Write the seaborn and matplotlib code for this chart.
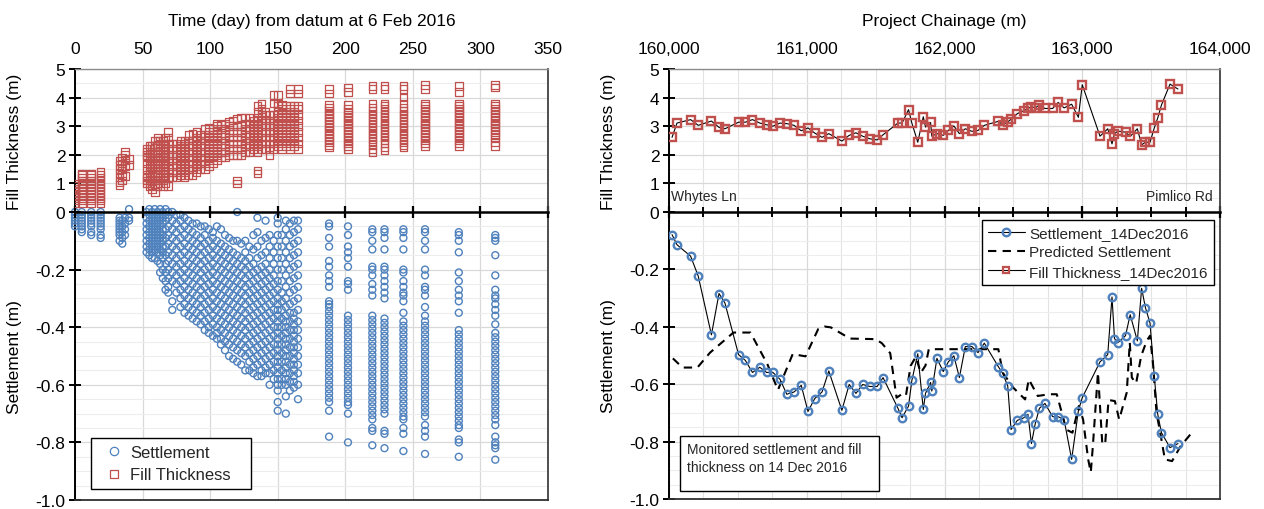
import numpy as np
import pandas as pd
import matplotlib
matplotlib.use("Agg")
import matplotlib.pyplot as plt
import seaborn as sns
from matplotlib.lines import Line2D
from matplotlib.patches import Rectangle
from matplotlib.ticker import MultipleLocator, FixedLocator, FuncFormatter

# ---------------- data: left panel (time history) ----------------
survey_days = [0, 5, 12, 19, 33, 35, 37, 40, 53, 55, 57, 59, 61, 63, 65, 67, 69, 72, 75, 78,
               81, 84, 87, 90, 93, 96, 99, 102, 105, 108, 111, 114, 117, 120, 123, 126, 129,
               132, 135, 138, 141, 144, 147, 150, 153, 156, 159, 162, 165,
               188, 202, 220, 229, 243, 259, 284, 311]

fill_by_day = [
    [0.3, 0.4, 0.5, 0.55, 0.6, 0.65, 0.7, 0.75, 0.8, 0.9, 1.0],
    [0.3, 0.4, 0.5, 0.6, 0.7, 0.8, 0.9, 1.0, 1.1, 1.2, 1.3, 1.35],
    [0.3, 0.4, 0.5, 0.6, 0.7, 0.8, 0.9, 1.0, 1.1, 1.2, 1.3, 1.35],
    [0.3, 0.4, 0.5, 0.6, 0.7, 0.8, 0.9, 1.0, 1.1, 1.2, 1.3, 1.4],
    [0.95, 1.05, 1.2, 1.35, 1.5, 1.65, 1.8],
    [1.1, 1.3, 1.5, 1.7, 1.9],
    [1.25, 1.6, 1.8, 2.0, 2.1],
    [1.65, 1.85],
    [1.0, 1.1, 1.2, 1.3, 1.5, 1.7, 1.9, 2.0, 2.1, 2.2],
    [0.9, 1.0, 1.1, 1.2, 1.4, 1.6, 1.8, 2.0, 2.2, 2.3],
    [0.8, 0.95, 1.1, 1.25, 1.4, 1.6, 1.8, 2.0, 2.1, 2.3],
    [0.7, 0.9, 1.1, 1.3, 1.5, 1.7, 1.9, 2.1, 2.3, 2.5],
    [0.9, 1.1, 1.3, 1.5, 1.7, 1.9, 2.1, 2.3, 2.5, 2.6],
    [1.0, 1.2, 1.4, 1.6, 1.8, 2.0, 2.2, 2.4, 2.5],
    [0.9, 1.1, 1.3, 1.5, 1.7, 1.9, 2.1, 2.3, 2.5],
    [1.0, 1.2, 1.4, 1.6, 1.8, 2.0, 2.2, 2.4, 2.6],
    [0.9, 1.2, 1.5, 1.8, 2.0, 2.2, 2.4, 2.6, 2.8],
    [1.2, 1.4, 1.6, 1.8, 2.0, 2.2, 2.4],
    [1.2, 1.4, 1.6, 1.8, 2.0, 2.2, 2.4],
    [1.3, 1.5, 1.7, 1.9, 2.1, 2.3, 2.5],
    [1.2, 1.4, 1.6, 1.8, 2.0, 2.2, 2.4, 2.5],
    [1.3, 1.5, 1.7, 1.9, 2.1, 2.3, 2.5, 2.7],
    [1.3, 1.5, 1.7, 1.9, 2.1, 2.3, 2.5, 2.75],
    [1.4, 1.6, 1.8, 2.0, 2.2, 2.4, 2.6, 2.8],
    [1.5, 1.7, 1.9, 2.1, 2.3, 2.5, 2.7],
    [1.5, 1.7, 1.9, 2.1, 2.3, 2.5, 2.7, 2.9],
    [1.6, 1.8, 2.0, 2.2, 2.4, 2.6, 2.8, 2.95],
    [1.7, 1.9, 2.1, 2.3, 2.5, 2.7, 2.9],
    [1.8, 2.0, 2.2, 2.4, 2.6, 2.8, 3.0, 3.1],
    [1.9, 2.1, 2.3, 2.5, 2.7, 2.9, 3.05],
    [1.9, 2.1, 2.3, 2.5, 2.7, 2.9, 3.1],
    [2.0, 2.2, 2.4, 2.6, 2.8, 3.0, 3.15],
    [2.0, 2.2, 2.4, 2.6, 2.8, 3.0, 3.2],
    [1.0, 1.1, 2.0, 2.2, 2.4, 2.6, 2.8, 3.0, 3.25],
    [2.0, 2.2, 2.4, 2.6, 2.8, 3.0, 3.3],
    [2.1, 2.3, 2.5, 2.7, 2.9, 3.1, 3.3],
    [2.1, 2.3, 2.5, 2.7, 2.9, 3.1, 3.3],
    [2.2, 2.4, 2.6, 2.8, 3.0, 3.2],
    [1.35, 1.45, 2.1, 2.3, 2.5, 2.7, 2.9, 3.1, 3.3, 3.5, 3.7],
    [2.2, 2.4, 2.6, 2.8, 3.0, 3.2, 3.4, 3.6, 3.8],
    [2.2, 2.4, 2.6, 2.8, 3.0, 3.2, 3.4, 3.5],
    [2.0, 2.2, 2.4, 2.6, 2.8, 3.0, 3.2, 3.4],
    [2.2, 2.4, 2.6, 2.8, 3.0, 3.2, 3.4, 3.8, 4.1],
    [2.3, 2.5, 2.7, 2.9, 3.1, 3.3, 3.5, 3.7, 3.8, 4.1],
    [2.2, 2.4, 2.6, 2.8, 3.0, 3.2, 3.4, 3.6, 3.75],
    [2.3, 2.5, 2.7, 2.9, 3.1, 3.3, 3.5, 3.7],
    [2.2, 2.4, 2.6, 2.8, 3.0, 3.2, 3.4, 3.6, 3.7, 4.15, 4.3],
    [2.3, 2.5, 2.7, 2.9, 3.1, 3.3, 3.5, 3.7],
    [2.2, 2.4, 2.6, 2.8, 3.0, 3.2, 3.4, 3.6, 3.7, 4.15, 4.3],
    [2.25, 2.35, 2.45, 2.55, 2.65, 2.75, 2.85, 2.95, 3.05, 3.15, 3.25, 3.35, 3.45, 3.55, 3.65, 3.75, 4.15, 4.3],
    [2.2, 2.3, 2.4, 2.5, 2.6, 2.7, 2.8, 2.9, 3.0, 3.1, 3.2, 3.3, 3.4, 3.5, 3.6, 3.75, 4.2, 4.35],
    [2.1, 2.2, 2.35, 2.45, 2.55, 2.65, 2.75, 2.85, 2.95, 3.05, 3.15, 3.25, 3.35, 3.45, 3.55, 3.65, 3.8, 4.3, 4.4],
    [2.15, 2.25, 2.4, 2.5, 2.6, 2.7, 2.8, 2.9, 3.0, 3.1, 3.2, 3.3, 3.4, 3.5, 3.6, 3.7, 3.8, 4.3, 4.4],
    [2.25, 2.35, 2.45, 2.55, 2.65, 2.75, 2.85, 2.95, 3.05, 3.15, 3.25, 3.35, 3.45, 3.55, 3.65, 3.8, 4.0, 4.3, 4.4],
    [2.3, 2.4, 2.5, 2.6, 2.7, 2.8, 2.9, 3.0, 3.1, 3.2, 3.3, 3.4, 3.5, 3.6, 3.7, 3.8, 4.3, 4.45],
    [2.3, 2.4, 2.5, 2.6, 2.7, 2.8, 2.9, 3.0, 3.1, 3.2, 3.3, 3.4, 3.5, 3.6, 3.7, 3.8, 4.2, 4.4],
    [2.3, 2.45, 2.6, 2.7, 2.8, 2.9, 3.0, 3.1, 3.2, 3.3, 3.4, 3.5, 3.6, 3.7, 3.8, 4.35, 4.45],
]

settle_by_day = [
    [0.0, -0.01, -0.02, -0.03, -0.04, -0.05],
    [0.0, -0.01, -0.02, -0.03, -0.04, -0.05, -0.06, -0.07],
    [0.0, -0.01, -0.02, -0.03, -0.04, -0.05, -0.07, -0.08],
    [0.0, -0.01, -0.02, -0.03, -0.04, -0.05, -0.06, -0.08, -0.09],
    [-0.02, -0.03, -0.04, -0.05, -0.06, -0.07, -0.08, -0.1],
    [-0.03, -0.05, -0.07, -0.09, -0.11],
    [-0.02, -0.04, -0.06, -0.08],
    [0.01, -0.02, -0.03],
    [0.0, -0.02, -0.04, -0.06, -0.08, -0.1, -0.12, -0.14],
    [0.01, -0.01, -0.03, -0.05, -0.07, -0.09, -0.11, -0.13, -0.15],
    [0.0, -0.02, -0.04, -0.06, -0.08, -0.1, -0.12, -0.14, -0.16],
    [0.01, -0.01, -0.03, -0.05, -0.07, -0.09, -0.11, -0.13, -0.16],
    [0.0, -0.02, -0.04, -0.06, -0.08, -0.1, -0.12, -0.14, -0.17],
    [0.01, -0.01, -0.03, -0.05, -0.07, -0.09, -0.11, -0.13, -0.15, -0.18, -0.21],
    [0.0, -0.02, -0.04, -0.06, -0.08, -0.1, -0.12, -0.14, -0.16, -0.2, -0.23],
    [0.01, -0.01, -0.03, -0.06, -0.09, -0.12, -0.15, -0.18, -0.21, -0.24, -0.27],
    [0.0, -0.02, -0.05, -0.08, -0.11, -0.14, -0.17, -0.2, -0.23, -0.26, -0.28],
    [0.0, -0.03, -0.06, -0.09, -0.12, -0.15, -0.18, -0.21, -0.24, -0.31, -0.34],
    [-0.01, -0.04, -0.07, -0.1, -0.13, -0.16, -0.19, -0.22, -0.25, -0.28],
    [-0.01, -0.03, -0.06, -0.09, -0.12, -0.15, -0.18, -0.21, -0.24, -0.27, -0.3, -0.33],
    [-0.02, -0.05, -0.08, -0.11, -0.14, -0.17, -0.2, -0.23, -0.26, -0.29, -0.32, -0.35],
    [-0.03, -0.06, -0.09, -0.12, -0.15, -0.18, -0.21, -0.24, -0.27, -0.3, -0.33, -0.36],
    [-0.04, -0.07, -0.1, -0.13, -0.16, -0.19, -0.22, -0.25, -0.28, -0.31, -0.34, -0.37],
    [-0.04, -0.08, -0.11, -0.14, -0.17, -0.2, -0.23, -0.26, -0.29, -0.32, -0.35, -0.38],
    [-0.05, -0.09, -0.12, -0.15, -0.18, -0.21, -0.24, -0.27, -0.3, -0.33, -0.36, -0.39],
    [-0.05, -0.08, -0.11, -0.14, -0.17, -0.2, -0.23, -0.26, -0.29, -0.32, -0.35, -0.38, -0.41],
    [-0.06, -0.1, -0.13, -0.16, -0.19, -0.22, -0.25, -0.28, -0.31, -0.34, -0.37, -0.4, -0.42],
    [-0.07, -0.09, -0.12, -0.15, -0.18, -0.21, -0.24, -0.27, -0.3, -0.33, -0.36, -0.39, -0.43],
    [-0.05, -0.1, -0.13, -0.16, -0.19, -0.22, -0.25, -0.28, -0.31, -0.34, -0.37, -0.4, -0.42, -0.44],
    [-0.06, -0.11, -0.14, -0.17, -0.2, -0.23, -0.26, -0.29, -0.32, -0.35, -0.38, -0.41, -0.44, -0.46],
    [-0.08, -0.12, -0.15, -0.18, -0.21, -0.24, -0.27, -0.3, -0.33, -0.36, -0.39, -0.42, -0.45, -0.48],
    [-0.09, -0.13, -0.16, -0.19, -0.22, -0.25, -0.28, -0.31, -0.34, -0.37, -0.4, -0.43, -0.46, -0.5],
    [-0.1, -0.14, -0.17, -0.2, -0.23, -0.26, -0.29, -0.32, -0.35, -0.38, -0.41, -0.44, -0.47, -0.51],
    [0.0, -0.1, -0.15, -0.18, -0.21, -0.24, -0.27, -0.3, -0.33, -0.36, -0.39, -0.42, -0.45, -0.48, -0.52],
    [-0.11, -0.16, -0.19, -0.22, -0.25, -0.28, -0.31, -0.34, -0.37, -0.4, -0.43, -0.46, -0.49, -0.53],
    [-0.1, -0.14, -0.17, -0.2, -0.23, -0.26, -0.29, -0.32, -0.35, -0.38, -0.41, -0.44, -0.47, -0.5, -0.55],
    [-0.12, -0.16, -0.19, -0.22, -0.25, -0.28, -0.31, -0.34, -0.37, -0.4, -0.43, -0.46, -0.49, -0.52, -0.55],
    [-0.08, -0.13, -0.18, -0.21, -0.24, -0.27, -0.3, -0.33, -0.36, -0.39, -0.42, -0.45, -0.48, -0.51, -0.54, -0.56],
    [-0.02, -0.07, -0.12, -0.16, -0.2, -0.23, -0.26, -0.29, -0.32, -0.35, -0.38, -0.41, -0.44, -0.47, -0.5,
     -0.53, -0.57],
    [-0.1, -0.15, -0.19, -0.22, -0.25, -0.28, -0.31, -0.34, -0.37, -0.4, -0.43, -0.46, -0.49, -0.52, -0.55,
     -0.57],
    [-0.03, -0.09, -0.14, -0.18, -0.21, -0.24, -0.27, -0.3, -0.33, -0.36, -0.39, -0.42, -0.45, -0.48, -0.51,
     -0.54, -0.56],
    [-0.08, -0.12, -0.16, -0.2, -0.23, -0.26, -0.29, -0.32, -0.35, -0.38, -0.41, -0.44, -0.47, -0.5, -0.53,
     -0.56, -0.6],
    [-0.1, -0.14, -0.18, -0.22, -0.25, -0.28, -0.31, -0.34, -0.37, -0.4, -0.43, -0.46, -0.49, -0.52, -0.55,
     -0.58],
    [-0.02, -0.04, -0.08, -0.12, -0.16, -0.2, -0.24, -0.27, -0.3, -0.32, -0.34, -0.36, -0.38, -0.4, -0.42,
     -0.44, -0.46, -0.48, -0.5, -0.52, -0.54, -0.56, -0.58, -0.6, -0.62, -0.66, -0.69],
    [-0.08, -0.12, -0.16, -0.2, -0.24, -0.28, -0.31, -0.34, -0.37, -0.4, -0.43, -0.46, -0.49, -0.52, -0.55,
     -0.58, -0.6],
    [-0.03, -0.06, -0.1, -0.14, -0.18, -0.22, -0.26, -0.3, -0.33, -0.36, -0.38, -0.4, -0.42, -0.44, -0.46,
     -0.48, -0.5, -0.52, -0.54, -0.56, -0.58, -0.6, -0.64, -0.7],
    [-0.04, -0.08, -0.12, -0.16, -0.2, -0.24, -0.28, -0.32, -0.35, -0.38, -0.41, -0.44, -0.47, -0.5, -0.53,
     -0.56, -0.59, -0.62],
    [-0.03, -0.07, -0.11, -0.15, -0.19, -0.23, -0.27, -0.31, -0.35, -0.37, -0.39, -0.41, -0.43, -0.45, -0.47,
     -0.49, -0.51, -0.53, -0.55, -0.57, -0.59, -0.61],
    [-0.03, -0.06, -0.1, -0.14, -0.18, -0.22, -0.26, -0.3, -0.34, -0.38, -0.41, -0.44, -0.47, -0.5, -0.53,
     -0.56, -0.6, -0.65],
    [-0.04, -0.05, -0.09, -0.12, -0.17, -0.19, -0.22, -0.24, -0.26, -0.31, -0.32, -0.33, -0.345, -0.36,
     -0.375, -0.39, -0.405, -0.42, -0.435, -0.45, -0.465, -0.48, -0.495, -0.51, -0.525, -0.54, -0.555,
     -0.57, -0.585, -0.6, -0.615, -0.63, -0.645, -0.66, -0.69, -0.78],
    [-0.05, -0.08, -0.12, -0.14, -0.16, -0.19, -0.24, -0.25, -0.27, -0.36, -0.375, -0.39, -0.405, -0.42,
     -0.435, -0.45, -0.465, -0.48, -0.495, -0.51, -0.525, -0.54, -0.555, -0.57, -0.585, -0.6, -0.615,
     -0.63, -0.645, -0.66, -0.67, -0.7, -0.8],
    [-0.06, -0.07, -0.1, -0.13, -0.19, -0.2, -0.22, -0.25, -0.27, -0.29, -0.36, -0.375, -0.39, -0.405,
     -0.42, -0.435, -0.45, -0.465, -0.48, -0.495, -0.51, -0.525, -0.54, -0.555, -0.57, -0.585, -0.6,
     -0.615, -0.63, -0.645, -0.66, -0.675, -0.69, -0.705, -0.72, -0.75, -0.76, -0.81],
    [-0.06, -0.07, -0.09, -0.13, -0.19, -0.2, -0.22, -0.24, -0.26, -0.28, -0.3, -0.37, -0.385, -0.4,
     -0.415, -0.43, -0.445, -0.46, -0.475, -0.49, -0.505, -0.52, -0.535, -0.55, -0.565, -0.58, -0.595,
     -0.61, -0.625, -0.64, -0.655, -0.67, -0.685, -0.7, -0.76, -0.77, -0.82],
    [-0.06, -0.07, -0.09, -0.13, -0.2, -0.21, -0.24, -0.26, -0.28, -0.29, -0.31, -0.35, -0.38, -0.395,
     -0.41, -0.425, -0.44, -0.455, -0.47, -0.485, -0.5, -0.515, -0.53, -0.545, -0.56, -0.575, -0.59,
     -0.605, -0.62, -0.635, -0.65, -0.665, -0.68, -0.695, -0.71, -0.72, -0.75, -0.77, -0.83],
    [-0.06, -0.07, -0.1, -0.13, -0.2, -0.22, -0.26, -0.27, -0.29, -0.33, -0.36, -0.38, -0.395, -0.41,
     -0.425, -0.44, -0.455, -0.47, -0.485, -0.5, -0.515, -0.53, -0.545, -0.56, -0.575, -0.59, -0.605,
     -0.62, -0.635, -0.65, -0.665, -0.68, -0.695, -0.71, -0.74, -0.76, -0.78, -0.84],
    [-0.07, -0.08, -0.1, -0.14, -0.21, -0.24, -0.27, -0.29, -0.31, -0.35, -0.41, -0.425, -0.44, -0.455,
     -0.47, -0.485, -0.5, -0.515, -0.53, -0.545, -0.56, -0.575, -0.59, -0.605, -0.62, -0.635, -0.65,
     -0.665, -0.68, -0.695, -0.71, -0.725, -0.74, -0.75, -0.79, -0.8, -0.85],
    [-0.08, -0.09, -0.1, -0.15, -0.22, -0.27, -0.29, -0.3, -0.32, -0.34, -0.36, -0.39, -0.42, -0.435,
     -0.45, -0.465, -0.48, -0.495, -0.51, -0.525, -0.54, -0.555, -0.57, -0.585, -0.6, -0.615, -0.63,
     -0.645, -0.66, -0.675, -0.69, -0.705, -0.72, -0.74, -0.78, -0.8, -0.81, -0.82, -0.86],
]

# ---------------- data: right panel (14 Dec 2016 profile) ----------------
chainage = [160022, 160058, 160157, 160212, 160308, 160363, 160406, 160505, 160554, 160606,
            160659, 160708, 160754, 160806, 160855, 160908, 160960, 161009, 161058, 161111,
            161160, 161255, 161308, 161357, 161406, 161458, 161511, 161554, 161662, 161692,
            161739, 161763, 161806, 161846, 161862, 161899, 161908, 161945, 161991, 162028,
            162068, 162108, 162151, 162200, 162243, 162289, 162391, 162422, 162459, 162483,
            162529, 162576, 162606, 162631, 162659, 162689, 162729, 162785, 162825, 162868,
            162923, 162972, 163000, 163129, 163185, 163216, 163234, 163259, 163314, 163348,
            163400, 163431, 163459, 163492, 163523, 163548, 163575, 163637, 163695]

settlement_14dec = [-0.079, -0.114, -0.154, -0.223, -0.428, -0.284, -0.317, -0.497, -0.517, -0.559,
                    -0.541, -0.559, -0.559, -0.583, -0.635, -0.627, -0.604, -0.695, -0.650, -0.627,
                    -0.554, -0.691, -0.601, -0.632, -0.601, -0.608, -0.608, -0.577, -0.684, -0.717,
                    -0.676, -0.587, -0.494, -0.688, -0.632, -0.594, -0.624, -0.510, -0.556, -0.522,
                    -0.501, -0.577, -0.469, -0.469, -0.490, -0.457, -0.539, -0.562, -0.606, -0.758,
                    -0.726, -0.717, -0.705, -0.807, -0.737, -0.684, -0.667, -0.713, -0.713, -0.723,
                    -0.862, -0.692, -0.647, -0.522, -0.497, -0.296, -0.441, -0.455, -0.431, -0.358,
                    -0.449, -0.266, -0.334, -0.387, -0.573, -0.705, -0.769, -0.821, -0.807]

fill_14dec = [2.61, 3.11, 3.23, 3.03, 3.18, 2.96, 2.91, 3.14, 3.14, 3.23,
              3.11, 3.05, 3.00, 3.11, 3.09, 3.03, 2.84, 2.94, 2.76, 2.61,
              2.74, 2.48, 2.68, 2.77, 2.65, 2.56, 2.52, 2.70, 3.11, 3.11,
              3.58, 3.11, 2.44, 3.33, 2.97, 3.13, 2.65, 2.74, 2.68, 2.85,
              3.01, 2.74, 2.91, 2.82, 2.85, 3.03, 3.17, 3.05, 3.15, 3.24,
              3.44, 3.54, 3.62, 3.68, 3.64, 3.74, 3.62, 3.62, 3.83, 3.64,
              3.77, 3.31, 4.45, 2.65, 2.91, 2.38, 2.74, 2.83, 2.79, 2.64,
              2.91, 2.35, 2.44, 2.44, 2.94, 3.29, 3.74, 4.47, 4.30]

pred_chainage = [160028, 160098, 160206, 160298, 160468, 160591, 160714, 160791, 160898, 160991,
                 161083, 161129, 161175, 161314, 161499, 161545, 161606, 161652, 161689, 161720,
                 161754, 161791, 161828, 161862, 161886, 162391, 162422, 162499, 162585, 162612,
                 162677, 162760, 162815, 162852, 162883, 162929, 162975, 163006, 163043, 163062,
                 163077, 163114, 163145, 163166, 163191, 163237, 163268, 163323, 163345, 163360,
                 163391, 163428, 163468, 163492, 163514, 163539, 163566, 163600, 163652, 163714,
                 163785]
pred_settlement = [-0.510, -0.542, -0.542, -0.490, -0.420, -0.420, -0.530, -0.620, -0.495, -0.503,
                   -0.408, -0.399, -0.402, -0.441, -0.443, -0.457, -0.492, -0.647, -0.635, -0.640,
                   -0.536, -0.505, -0.560, -0.535, -0.478, -0.478, -0.559, -0.612, -0.653, -0.583,
                   -0.641, -0.635, -0.635, -0.700, -0.758, -0.769, -0.676, -0.723, -0.862, -0.907,
                   -0.816, -0.559, -0.804, -0.810, -0.655, -0.659, -0.723, -0.629, -0.455, -0.577,
                   -0.597, -0.501, -0.449, -0.431, -0.530, -0.700, -0.769, -0.862, -0.868, -0.816,
                   -0.775]

time_ticks = [0, 50, 100, 150, 200, 250, 300, 350]
chainage_ticks = [160000, 161000, 162000, 163000, 164000]
fill_ticks = [0, 1, 2, 3, 4, 5]
settle_ticks = [-1.0, -0.8, -0.6, -0.4, -0.2]

# ---------------- build frames ----------------
fill_df = pd.DataFrame([(d, v) for d, vals in zip(survey_days, fill_by_day) for v in vals],
                       columns=["day", "fill"])
settle_df = pd.DataFrame([(d, v) for d, vals in zip(survey_days, settle_by_day) for v in vals],
                         columns=["day", "settlement"])
profile_df = pd.DataFrame({"chainage": chainage, "settlement": settlement_14dec, "fill": fill_14dec})
pred_df = pd.DataFrame({"chainage": pred_chainage, "settlement": pred_settlement})

# ---------------- style ----------------
sns.set_theme(style="white")
plt.rcParams["font.family"] = ["Liberation Sans", "DejaVu Sans"]
plt.rcParams["axes.unicode_minus"] = False
NARROW = ["Liberation Sans Narrow", "Liberation Sans", "DejaVu Sans"]

BLUE = "#4F81BD"
RED = "#C0504D"
W, H = 1264, 510

fig = plt.figure(figsize=(W / 100, H / 100), dpi=100)
fig.patch.set_facecolor("white")


def px_axes(x0, x1, y_top, y_bot):
    return [x0 / W, (H - y_bot) / H, (x1 - x0) / W, (y_bot - y_top) / H]


L_bot = fig.add_axes(px_axes(75, 548, 213, 501))
L_top = fig.add_axes(px_axes(75, 548, 70, 213))
R_bot = fig.add_axes(px_axes(669, 1220, 213, 500))
R_top = fig.add_axes(px_axes(669, 1220, 70, 213))

settle_fmt = FuncFormatter(lambda v, _: "0" if abs(v) < 1e-9 else f"{v:.1f}")


def style_pair(top, bot, xlim, xmajor, xminor, xlabels_fmt, xlabel, xticks):
    for ax in (top, bot):
        ax.set_xlim(*xlim)
        ax.xaxis.set_major_locator(MultipleLocator(xmajor))
        if xminor:
            ax.xaxis.set_minor_locator(MultipleLocator(xminor))
        ax.grid(False)
        ax.set_axisbelow(True)
    top.set_facecolor("none")
    top.set_ylim(0, 5)
    bot.set_ylim(-1.0, 0)
    top.yaxis.set_major_locator(FixedLocator(fill_ticks))
    top.yaxis.set_minor_locator(MultipleLocator(0.5))
    bot.yaxis.set_major_locator(FixedLocator(settle_ticks))
    bot.yaxis.set_minor_locator(MultipleLocator(0.05))
    bot.yaxis.set_major_formatter(settle_fmt)

    for ax in (top, bot):
        ax.grid(which="major", axis="both", color="#D9D9D9", lw=0.9)
        ax.grid(which="minor", axis="y", color="#EDEDED", lw=0.8)
        if xminor:
            ax.grid(which="minor", axis="x", color="#E3E3E3", lw=0.8)

    top.spines["top"].set_color("#8C8C8C")
    top.spines["top"].set_linewidth(1.0)
    top.spines["left"].set_color("black")
    top.spines["left"].set_linewidth(1.4)
    top.spines["right"].set_color("#404040")
    top.spines["right"].set_linewidth(1.3)
    top.spines["bottom"].set_color("black")
    top.spines["bottom"].set_linewidth(1.8)
    top.spines["bottom"].set_zorder(5)
    bot.spines["top"].set_visible(False)
    bot.spines["left"].set_color("black")
    bot.spines["left"].set_linewidth(1.4)
    bot.spines["right"].set_color("#404040")
    bot.spines["right"].set_linewidth(1.3)
    bot.spines["bottom"].set_color("#303030")
    bot.spines["bottom"].set_linewidth(1.3)

    top.tick_params(axis="x", which="major", bottom=True, top=False, labelbottom=False,
                    labeltop=False, direction="inout", length=9, width=1.6, color="black")
    top.tick_params(axis="x", which="minor", bottom=True, top=False, direction="inout",
                    length=7, width=1.4, color="black")
    for ax in (top, bot):
        ax.tick_params(axis="y", which="major", left=True, right=False, direction="inout",
                       length=8, width=1.4, color="black", labelsize=12.5, pad=3,
                       labelcolor="black")
        ax.tick_params(axis="y", which="minor", left=False, right=False)
    bot.tick_params(axis="x", which="both", bottom=False, top=False,
                    labelbottom=False, labeltop=False)

    sec = top.secondary_xaxis("top")
    sec.set_xticks(xticks)
    sec.xaxis.set_major_formatter(xlabels_fmt)
    sec.tick_params(axis="x", length=0, labelsize=12.5, pad=9, labelcolor="black")
    for sp in sec.spines.values():
        sp.set_visible(False)
    sec.set_xlabel(xlabel, fontsize=12.5, labelpad=12, color="black")


# ---------------- left panel ----------------
sns.scatterplot(data=settle_df, x="day", y="settlement", ax=L_bot, marker="o", s=25,
                facecolor="none", edgecolor=BLUE, linewidth=1.0, clip_on=False, zorder=3)
sns.scatterplot(data=fill_df, x="day", y="fill", ax=L_top, marker="s", s=30,
                facecolor="none", edgecolor=RED, linewidth=0.9, zorder=3)
style_pair(L_top, L_bot, (0, 350), 50, None, FuncFormatter(lambda v, _: f"{v:.0f}"),
           "Time (day) from datum at 6 Feb 2016", time_ticks)
L_top.set_xlabel("")
L_bot.set_xlabel("")
L_top.set_ylabel("Fill Thickness (m)", fontsize=12.5, color="black")
L_bot.set_ylabel("Settlement (m)", fontsize=12.5, color="black")
L_top.yaxis.set_label_coords(-0.112, 0.5)
L_bot.yaxis.set_label_coords(-0.112, 0.5)

left_handles = [
    Line2D([], [], ls="none", marker="o", mfc="none", mec=BLUE, mew=0.9, ms=6),
    Line2D([], [], ls="none", marker="s", mfc="none", mec=RED, mew=0.9, ms=6),
]
leg = L_bot.legend(left_handles, ["Settlement", "Fill Thickness   "], loc="lower left",
                   bbox_to_anchor=(0.034, 0.038), fontsize=12, frameon=True, fancybox=False,
                   edgecolor="black", handlelength=1.9, handletextpad=0.05, borderpad=0.4,
                   labelspacing=0.45, borderaxespad=0)
leg.get_frame().set_linewidth(1.0)
leg.get_frame().set_facecolor("white")
leg.get_frame().set_alpha(1)

# ---------------- right panel ----------------
sns.lineplot(data=pred_df, x="chainage", y="settlement", ax=R_bot, color="black", lw=1.5,
             linestyle=(0, (4, 3)), sort=False, estimator=None, zorder=2)
sns.lineplot(data=profile_df, x="chainage", y="settlement", ax=R_bot, color="black", lw=0.8,
             marker="o", markersize=5.4, markerfacecolor="none", markeredgecolor=BLUE,
             markeredgewidth=1.7, sort=False, estimator=None, zorder=3)
sns.lineplot(data=profile_df, x="chainage", y="fill", ax=R_top, color="black", lw=0.8,
             marker="s", markersize=5.4, markerfacecolor="none", markeredgecolor=RED,
             markeredgewidth=1.7, sort=False, estimator=None, zorder=3)
style_pair(R_top, R_bot, (160000, 164000), 1000, 250, FuncFormatter(lambda v, _: f"{v:,.0f}"),
           "Project Chainage (m)", chainage_ticks)
R_top.set_xlabel("")
R_bot.set_xlabel("")
R_top.set_ylabel("Fill Thickness (m)", fontsize=12.5, color="black")
R_bot.set_ylabel("Settlement (m)", fontsize=12.5, color="black")
R_top.yaxis.set_label_coords(-0.096, 0.5)
R_bot.yaxis.set_label_coords(-0.096, 0.5)

R_top.text(160015, 0.56, "Whytes Ln", fontsize=10, family=NARROW, va="center", ha="left")
R_top.text(163950, 0.56, "Pimlico Rd", fontsize=10, family=NARROW, va="center", ha="right")

right_handles = [
    Line2D([], [], color="black", lw=0.8, marker="o", mfc="none", mec=BLUE, mew=1.7, ms=5.4),
    Line2D([], [], color="black", lw=1.5, linestyle=(0, (4, 3))),
    Line2D([], [], color="black", lw=0.8, marker="s", mfc="none", mec=RED, mew=1.6, ms=4.8),
]
leg2 = R_bot.legend(right_handles, ["Settlement_14Dec2016", "Predicted Settlement",
                                    "Fill Thickness_14Dec2016"],
                    loc="upper right", bbox_to_anchor=(0.989, 0.972),
                    prop={"family": NARROW, "size": 11},
                    frameon=True, fancybox=False, edgecolor="black", handlelength=2.4,
                    handletextpad=0.3, borderpad=0.4, labelspacing=0.35, borderaxespad=0)
leg2.get_frame().set_linewidth(1.0)
leg2.get_frame().set_facecolor("white")
leg2.get_frame().set_alpha(1)

R_bot.add_patch(Rectangle((11 / 551, 8 / 287), 199 / 551, 55 / 287, transform=R_bot.transAxes,
                          facecolor="white", edgecolor="black", lw=1.0, zorder=6))
R_bot.text(18 / 551, (500 - 443) / 287, "Monitored settlement and fill\nthickness on 14 Dec 2016",
           transform=R_bot.transAxes, fontsize=10, family=NARROW, va="top", ha="left",
           linespacing=1.4, zorder=7)

fig.savefig("out.png", dpi=100, facecolor="white")
